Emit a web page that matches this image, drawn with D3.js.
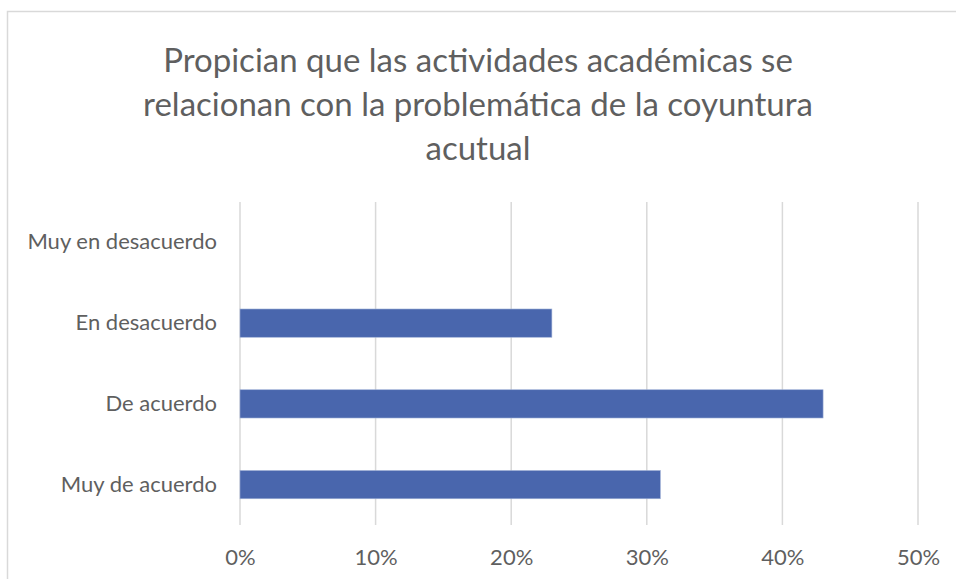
<!DOCTYPE html>
<html><head><meta charset="utf-8">
<script src="https://cdn.jsdelivr.net/npm/d3@7"></script>
<style>body{margin:0;background:#fff;} svg{display:block;font-family:Lato, "Open Sans", sans-serif;}</style>
</head><body>
<svg id="c" width="956" height="579"></svg>
<script>
const titleLines = ["Propician que las actividades académicas se", "relacionan con la problemática de la coyuntura", "acutual"];
const categories = ["Muy en desacuerdo", "En desacuerdo", "De acuerdo", "Muy de acuerdo"];
const values = [0, 0.23, 0.43, 0.31];
const xTicks = [0, 0.1, 0.2, 0.3, 0.4, 0.5];

const svg = d3.select("#c");
const W = 956, H = 579;
svg.append("rect").attr("x", 7.5).attr("y", 11.5).attr("width", W + 10).attr("height", H + 10)
  .attr("fill", "#fff").attr("stroke", "#d9d9d9").attr("stroke-width", 1.5);

const tg = svg.append("g");
titleLines.forEach((t, i) => {
  tg.append("text").attr("x", 478).attr("y", 72 + i * 44).attr("text-anchor", "middle")
    .attr("font-size", 33).attr("fill", "#5f5f5f").text(t);
});

const x = d3.scaleLinear().domain([0, 0.5]).range([240, 918]);
const y = d3.scaleBand().domain(categories).range([202, 525]).paddingInner(0.65).paddingOuter(0.325);

const grid = svg.append("g");
grid.selectAll("line").data(xTicks).join("line")
  .attr("x1", d => x(d)).attr("x2", d => x(d)).attr("y1", 202).attr("y2", 525)
  .attr("stroke", "#d9d9d9").attr("stroke-width", 1.5);

svg.append("g").selectAll("rect").data(categories).join("rect")
  .attr("x", x(0)).attr("y", d => y(d))
  .attr("width", (d, i) => x(values[i]) - x(0)).attr("height", y.bandwidth())
  .attr("fill", "#4966ad").attr("stroke", "#9fb0d6").attr("stroke-width", 0.6);

const xAxis = d3.axisBottom(x).tickValues(xTicks).tickFormat(d3.format(".0%")).tickSize(0).tickPadding(0);
const xg = svg.append("g").attr("transform", "translate(0,549)").call(xAxis);
xg.select(".domain").remove();
xg.selectAll("text").attr("font-size", 22).attr("fill", "#5f5f5f").attr("font-family", "Lato, sans-serif").attr("dy", "0.71em").attr("y", 0);

const yAxis = d3.axisLeft(y).tickSize(0).tickPadding(23);
const yg = svg.append("g").attr("transform", "translate(240,0)").call(yAxis);
yg.select(".domain").remove();
yg.selectAll("text").attr("font-size", 22).attr("fill", "#5f5f5f").attr("font-family", "Lato, sans-serif");
</script>
</body></html>
